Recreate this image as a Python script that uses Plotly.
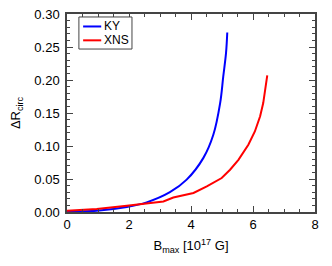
import plotly.graph_objects as go

ky_x = [0.0, 0.96, 1.93, 2.57, 3.32, 3.86, 4.40, 4.72, 4.94, 5.04, 5.13, 5.17]
ky_y = [0.001, 0.002, 0.0076, 0.0146, 0.030, 0.049, 0.082, 0.117, 0.165, 0.205, 0.241, 0.272]

xns_x = [0.0, 0.96, 1.93, 2.35, 3.11, 3.43, 3.65, 4.08, 4.51, 4.99, 5.26, 5.53, 5.85, 6.06, 6.23, 6.33, 6.46]
xns_y = [0.002, 0.0045, 0.0095, 0.012, 0.016, 0.022, 0.0247, 0.0288, 0.0388, 0.0515, 0.064, 0.079, 0.102, 0.122, 0.145, 0.165, 0.207]

xticks = [0, 2, 4, 6, 8]
yticks = [0.0, 0.05, 0.10, 0.15, 0.20, 0.25, 0.30]

names = ["KY", "XNS"]
colors = ["#0000ff", "#ff0000"]

FONT = "Liberation Sans, Arial"

fig = go.Figure()
fig.add_trace(go.Scatter(x=ky_x, y=ky_y, mode="lines", name=names[0], showlegend=False,
                         line=dict(color=colors[0], width=2, shape="spline")))
fig.add_trace(go.Scatter(x=xns_x, y=xns_y, mode="lines", name=names[1], showlegend=False,
                         line=dict(color=colors[1], width=2)))

axis_common = dict(
    showgrid=False, zeroline=False, showline=True, linecolor="#444444", linewidth=1.5,
    ticks="inside", ticklen=6, tickcolor="#444444", mirror="ticks", automargin=False,
    ticklabeloverflow="allow",
    tickfont=dict(family=FONT, size=13, color="black"),
)

fig.update_xaxes(range=[0, 8], tickvals=xticks, ticktext=[str(v) for v in xticks],
                 minor=dict(dtick=0.5, ticks="inside", ticklen=3, tickcolor="#444444"),
                 title=dict(text="B<sub>max</sub> [10<sup>17</sup> G]", standoff=10,
                            font=dict(family=FONT, size=13, color="black")),
                 **axis_common)
fig.update_yaxes(range=[0, 0.30], tickvals=yticks, ticktext=[f"{v:.2f}" for v in yticks],
                 minor=dict(dtick=0.01, ticks="inside", ticklen=3, tickcolor="#444444"),
                 ticklabelstandoff=3,
                 title=dict(text="ΔR<sub>circ</sub>", standoff=19,
                            font=dict(family=FONT, size=13, color="black")),
                 **axis_common)

# custom legend box (paper coordinates)
fig.add_shape(type="rect", xref="paper", yref="paper", x0=0.048, x1=0.262, y0=0.823, y1=0.985,
              line=dict(color="#444444", width=1), fillcolor="white")
leg_y = [0.937, 0.867]
for nm, col, yy in zip(names, colors, leg_y):
    fig.add_shape(type="line", xref="paper", yref="paper", x0=0.065, x1=0.138, y0=yy, y1=yy,
                  line=dict(color=col, width=2))
    fig.add_annotation(xref="paper", yref="paper", x=0.143, y=yy, text=nm, showarrow=False,
                       xanchor="left", yanchor="middle",
                       font=dict(family=FONT, size=12, color="black"))

# page body has an 8px default margin; size the figure so the plot area lands where the reference has it
fig.update_layout(
    width=324, height=258,
    margin=dict(l=59, r=17, t=6, b=54),
    paper_bgcolor="white", plot_bgcolor="white",
    showlegend=False,
)

fig.write_html("out.html")
